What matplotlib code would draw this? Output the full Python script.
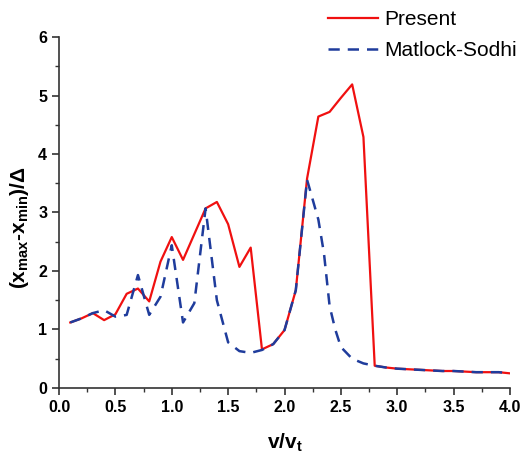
import matplotlib
matplotlib.use('Agg')
import matplotlib.pyplot as plt
from matplotlib.ticker import MultipleLocator, FormatStrFormatter

plt.rcParams['font.family'] = ['Liberation Sans', 'DejaVu Sans']
plt.rcParams['mathtext.default'] = 'regular'

# present model
v_present = [0.1, 0.2, 0.3, 0.4, 0.5, 0.6, 0.7, 0.8, 0.9, 1.0,
             1.1, 1.2, 1.3, 1.4, 1.5, 1.6, 1.7, 1.8, 1.9, 2.0,
             2.1, 2.2, 2.3, 2.4, 2.5, 2.6, 2.7, 2.8, 2.9, 3.0,
             3.1, 3.2, 3.3, 3.4, 3.5, 3.6, 3.7, 3.8, 3.9, 4.0]
amp_present = [1.12, 1.19, 1.28, 1.16, 1.26, 1.61, 1.70, 1.48, 2.16, 2.58,
               2.19, 2.63, 3.07, 3.18, 2.80, 2.07, 2.40, 0.66, 0.75, 0.99,
               1.67, 3.58, 4.64, 4.72, 4.96, 5.19, 4.29, 0.38, 0.35, 0.33,
               0.32, 0.31, 0.30, 0.29, 0.29, 0.28, 0.27, 0.27, 0.27, 0.25]

# Matlock-Sodhi
v_ms = [0.1, 0.2, 0.3, 0.4, 0.5, 0.55, 0.6, 0.7, 0.8, 0.9, 1.0,
        1.1, 1.2, 1.3, 1.4, 1.5, 1.6, 1.7, 1.8, 1.9, 2.0,
        2.1, 2.2, 2.3, 2.35, 2.4, 2.45, 2.5, 2.6, 2.7, 2.8, 2.9, 3.0,
        3.1, 3.2, 3.3, 3.4, 3.5, 3.6, 3.7, 3.8, 3.9, 4.0]
amp_ms = [1.12, 1.19, 1.28, 1.33, 1.22, 1.23, 1.25, 1.93, 1.25, 1.56, 2.44,
          1.12, 1.45, 3.07, 1.50, 0.78, 0.63, 0.60, 0.65, 0.75, 0.99,
          1.67, 3.56, 2.88, 2.30, 1.40, 1.00, 0.70, 0.50, 0.42, 0.38, 0.35, 0.33,
          0.32, 0.31, 0.30, 0.29, 0.29, 0.28, 0.27, 0.27, 0.27, 0.25]

fig = plt.figure(figsize=(5.26, 4.61), dpi=100)
ax = fig.add_axes([0.1122, 0.1584, 0.8574, 0.7613])

ax.plot(v_present, amp_present, color='#f01010', lw=1.6, label='Present')
ax.plot(v_ms, amp_ms, color='#1f3c9c', lw=1.8, ls=(0, (4.5, 3.2)), label='Matlock-Sodhi')

ax.set_xlim(0, 4)
ax.set_ylim(0, 6)
ax.spines['top'].set_visible(False)
ax.spines['right'].set_visible(False)
for s in ['left', 'bottom']:
    ax.spines[s].set_linewidth(1.2)
    ax.spines[s].set_color('#333333')

ax.xaxis.set_major_locator(MultipleLocator(0.5))
ax.xaxis.set_minor_locator(MultipleLocator(0.25))
ax.yaxis.set_major_locator(MultipleLocator(1))
ax.yaxis.set_minor_locator(MultipleLocator(0.5))
ax.xaxis.set_major_formatter(FormatStrFormatter('%.1f'))
ax.tick_params(which='major', direction='out', length=5, width=1.2, color='#333333',
               labelsize=11.5)
ax.tick_params(which='minor', direction='out', length=3, width=1.0, color='#333333')
for lbl in ax.get_xticklabels() + ax.get_yticklabels():
    lbl.set_fontweight('bold')

ax.set_xlabel('v/v$_t$', fontsize=15, fontweight='bold', labelpad=12)
ax.set_ylabel('(x$_{max}$-x$_{min}$)/Δ', fontsize=15, fontweight='bold')
ax.yaxis.set_label_coords(-0.062, 0.456)

fig.legend(loc='upper left', bbox_to_anchor=(0.588, 1.019), frameon=False,
           fontsize=15, handlelength=2.4, handletextpad=0.3, labelspacing=0.6)

fig.savefig('out.png', dpi=100)
